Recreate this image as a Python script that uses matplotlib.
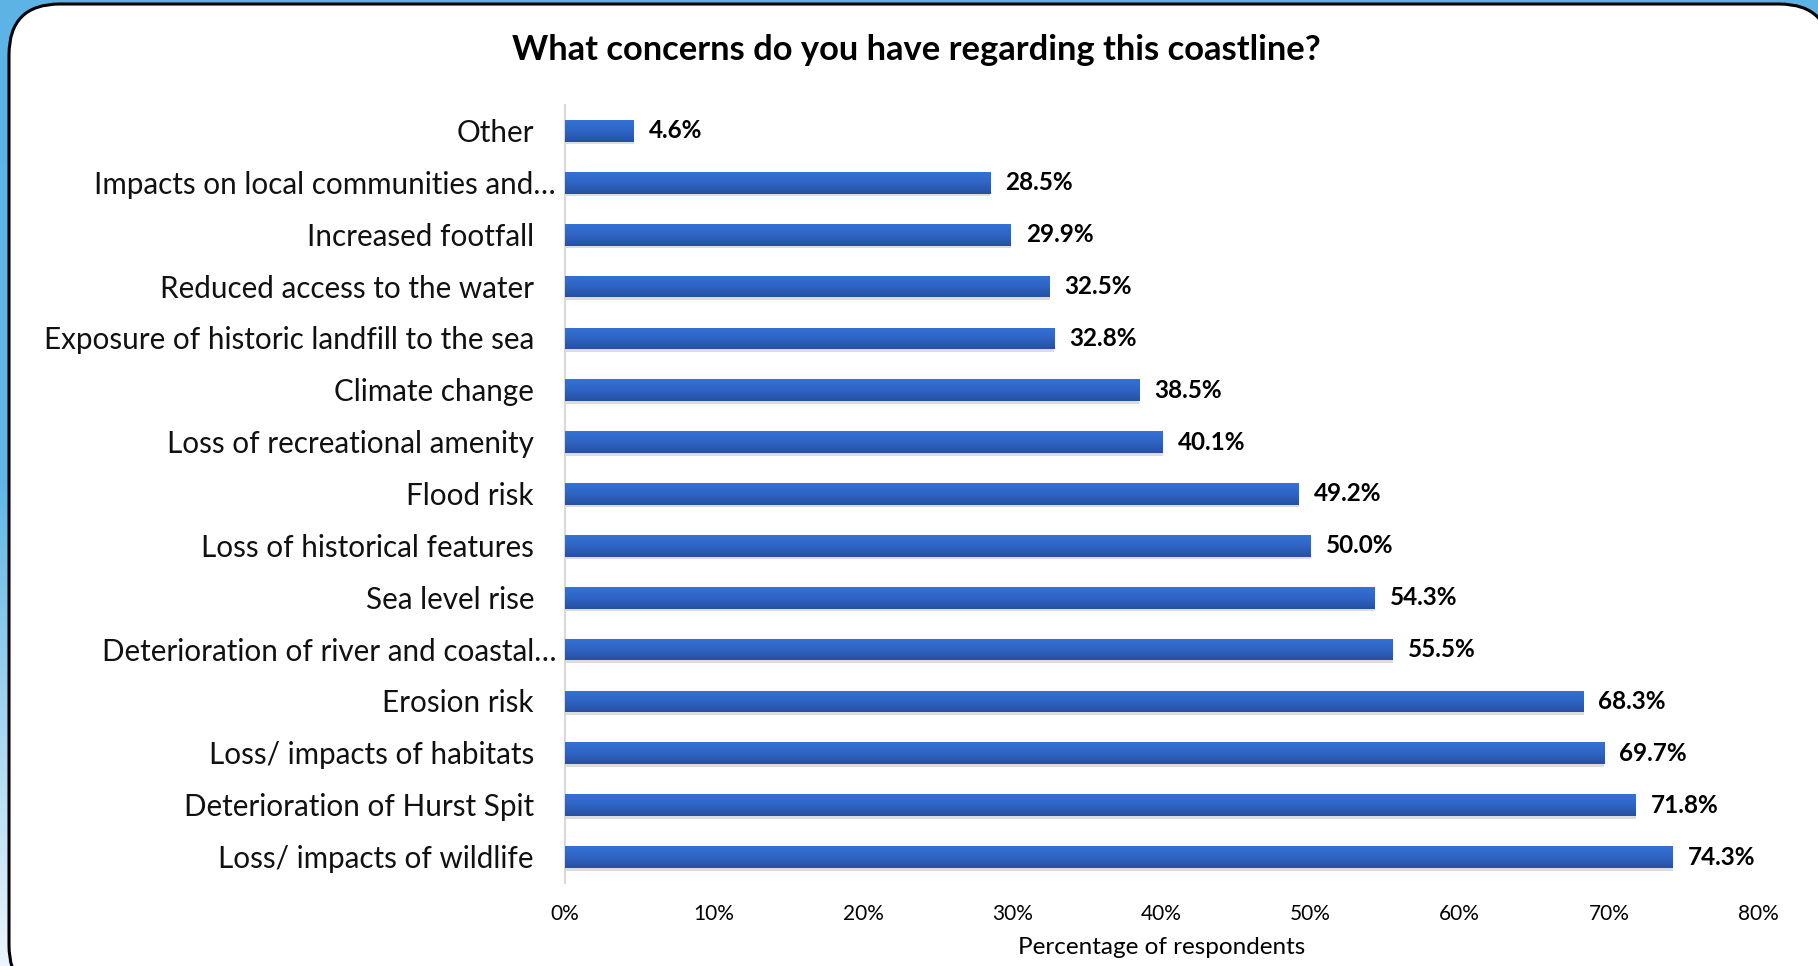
import matplotlib.pyplot as plt
import numpy as np
from matplotlib.patches import FancyBboxPatch
from matplotlib.colors import LinearSegmentedColormap
import matplotlib.transforms as mtransforms

plt.rcParams['font.family'] = ['Lato', 'DejaVu Sans']

categories = ['Loss/ impacts of wildlife', 'Deterioration of Hurst Spit',
              'Loss/ impacts of habitats', 'Erosion risk',
              'Deterioration of river and coastal\u2026', 'Sea level rise',
              'Loss of historical features', 'Flood risk',
              'Loss of recreational amenity', 'Climate change',
              'Exposure of historic landfill to the sea',
              'Reduced access to the water', 'Increased footfall',
              'Impacts on local communities and\u2026', 'Other']
values = [74.3, 71.8, 69.7, 68.3, 55.5, 54.3, 50.0, 49.2, 40.1, 38.5,
          32.8, 32.5, 29.9, 28.5, 4.6]
xticks = [0, 10, 20, 30, 40, 50, 60, 70, 80]

fig = plt.figure(figsize=(18.18, 9.66), dpi=100)

# blue background with a soft vertical gradient
bg = fig.add_axes([0, 0, 1, 1], zorder=-10)
grad = np.linspace(0, 1, 256).reshape(-1, 1)
bg_cmap = LinearSegmentedColormap.from_list('bg', ['#5CB3E4', '#62B6E5', '#EAF5FC'])
bg.imshow(grad, aspect='auto', cmap=bg_cmap, extent=[0, 1, 0, 1], origin='upper')
bg.set_xlim(0, 1)
bg.set_ylim(0, 1)
bg.axis('off')

# white rounded panel
W, H = 1818, 966
panel = FancyBboxPatch((9 / W, -30 / H), (1830 - 9) / W, (966 - 4 + 30) / H,
                       boxstyle='round,pad=0,rounding_size=0.028',
                       transform=bg.transAxes, facecolor='white',
                       edgecolor='black', linewidth=2.2, mutation_aspect=W / H)
bg.add_patch(panel)

ax = fig.add_axes([565 / W, 1 - 883 / H, (1758 - 565) / W, (883 - 105) / H])
ax.set_facecolor('none')

y = np.arange(len(categories))
bar_h = 0.42

# faint shadow just under the bars
ax.barh(y - 0.05, values, height=bar_h, color='#BBBBBB', alpha=0.5, zorder=1)
bars = ax.barh(y, values, height=bar_h, color='#2E62C2', zorder=2)

bar_cmap = LinearSegmentedColormap.from_list('bar', ['#3472D6', '#2F64C4', '#2650A0'])
for b in bars:
    x0, y0 = b.get_x(), b.get_y()
    im = ax.imshow(grad, aspect='auto', cmap=bar_cmap, origin='upper',
                   extent=[x0, x0 + b.get_width(), y0, y0 + b.get_height()], zorder=3)
    im.set_clip_path(b)

for yi, v in zip(y, values):
    ax.text(v + 1.0, yi, f'{v:.1f}%', va='center', ha='left',
            fontsize=17.5, fontweight='bold', color='black')

ax.set_xlim(0, 80)
ax.set_ylim(-0.5, len(categories) - 0.5)
ax.set_xticks(xticks)
ax.set_xticklabels([f'{t}%' for t in xticks], fontsize=15)
ax.tick_params(axis='x', length=0, pad=15)
ax.set_yticks([])

# category labels, the truncated ones overflow further right as in Excel
for yi, name in zip(y, categories):
    dx = 9 if name.endswith('\u2026') else 31
    tr = ax.transData + mtransforms.ScaledTranslation(-dx / 100, -0.02, fig.dpi_scale_trans)
    ax.text(0, yi, name, transform=tr, ha='right', va='center', fontsize=21.3, color='#111111')

for s in ['top', 'right', 'bottom']:
    ax.spines[s].set_visible(False)
ax.spines['left'].set_color('#D9D9D9')
ax.spines['left'].set_linewidth(1.5)

ax.set_xlabel('Percentage of respondents', fontsize=17.5, labelpad=9.5)

fig.text(916 / W, 1 - 50 / H, 'What concerns do you have regarding this coastline?',
         ha='center', va='center', fontsize=24.8, fontweight='bold')

fig.savefig('out.png', dpi=100)
